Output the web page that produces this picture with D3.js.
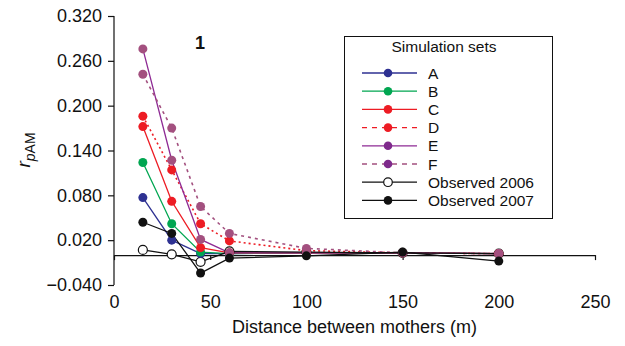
<!DOCTYPE html>
<html>
<head>
<meta charset="utf-8">
<script src="https://cdn.jsdelivr.net/npm/d3@7"></script>
<style>
  body { margin: 0; background: #fff; }
  svg { font-family: "Liberation Sans", Arial, sans-serif; }
</style>
</head>
<body>
<div id="vis"></div>
<script>
// data
const DISTANCES = [15, 30, 45, 60, 100, 150, 200];
const SET_A = [0.077, 0.020, 0.002, 0.002, 0.003, 0.003, 0.002];
const SET_B = [0.124, 0.042, 0.004, 0.002, 0.003, 0.003, 0.002];
const SET_C = [0.172, 0.072, 0.010, 0.003, 0.003, 0.003, 0.002];
const SET_D = [0.186, 0.114, 0.042, 0.019, 0.006, 0.003, 0.002];
const SET_E = [0.276, 0.127, 0.021, 0.003, 0.003, 0.003, 0.002];
const SET_F = [0.242, 0.170, 0.065, 0.029, 0.009, 0.003, 0.002];
const OBS_2006 = [0.007, 0.001, -0.009, 0.005, 0.004, 0.003, 0.002];
const OBS_2007 = [0.044, 0.029, -0.024, -0.004, -0.001, 0.004, -0.008];
const SERIES_NAMES = ["A", "B", "C", "D", "E", "F", "Observed 2006", "Observed 2007"];
const Y_TICKS = [-0.04, 0.02, 0.08, 0.14, 0.2, 0.26, 0.32];
const X_TICKS = [0, 50, 100, 150, 200, 250];

const FRAME_WIDTH = 625;
const FRAME_HEIGHT = 346;

const series = [
  {name: SERIES_NAMES[0], values: SET_A, line: "#2e3192", dot: "#2e3192", legDot: "#2e3192", dash: null, fill: true},
  {name: SERIES_NAMES[1], values: SET_B, line: "#00a651", dot: "#00a651", legDot: "#00a651", dash: null, fill: true},
  {name: SERIES_NAMES[2], values: SET_C, line: "#ed1c24", dot: "#ed1c24", legDot: "#ed1c24", dash: null, fill: true},
  {name: SERIES_NAMES[3], values: SET_D, line: "#ed1c24", dot: "#ed1c24", legDot: "#ed1c24", dash: "2,3", legDash: "5,5", fill: true},
  {name: SERIES_NAMES[4], values: SET_E, line: "#8e2a94", dot: "#a3507f", legDot: "#7f2a8c", dash: null, fill: true},
  {name: SERIES_NAMES[5], values: SET_F, line: "#a3507f", dot: "#a3507f", legDot: "#7f2a8c", dash: "3,4", legDash: "5,5", fill: true},
  {name: SERIES_NAMES[6], values: OBS_2006, line: "#111", dot: "#111", legDot: "#111", dash: null, fill: false},
  {name: SERIES_NAMES[7], values: OBS_2007, line: "#111", dot: "#111", legDot: "#111", dash: null, fill: true}
];

const svg = d3.select("#vis")
  .append("svg")
    .attr("width", FRAME_WIDTH)
    .attr("height", FRAME_HEIGHT);

const X_SCALE = d3.scaleLinear().domain([0, 250]).range([114, 595]);
const Y_SCALE = d3.scaleLinear().domain([-0.04, 0.32]).range([285, 16]);

// y axis
const yAxis = svg.append("g")
  .attr("transform", "translate(" + X_SCALE(0) + ",0)")
  .call(d3.axisLeft(Y_SCALE).tickValues(Y_TICKS).tickFormat(d3.format(".3f")).tickSizeOuter(0).tickSize(6).tickPadding(6));
yAxis.selectAll("text").attr("font-size", "18px").attr("fill", "#111");
yAxis.selectAll("line, path").attr("stroke", "#111").attr("stroke-width", 1.2);
yAxis.select(".domain").attr("d", "M0," + Y_SCALE(0.32) + "V" + Y_SCALE(-0.04));

// zero line with ticks
const zeroAxis = svg.append("g")
  .attr("transform", "translate(0," + Y_SCALE(0) + ")")
  .call(d3.axisBottom(X_SCALE).tickValues(X_TICKS).tickSize(5).tickSizeOuter(0).tickFormat(""));
zeroAxis.selectAll("line, path").attr("stroke", "#111").attr("stroke-width", 1.2);

// tick labels along the bottom
const xLabels = svg.append("g")
  .attr("transform", "translate(0," + Y_SCALE(-0.04) + ")")
  .call(d3.axisBottom(X_SCALE).tickValues(X_TICKS).tickSize(0).tickPadding(10));
xLabels.select(".domain").remove();
xLabels.selectAll("text").attr("font-size", "18px").attr("fill", "#111");

// axis titles
svg.append("text")
  .attr("x", (X_SCALE(0) + X_SCALE(250)) / 2)
  .attr("y", 333)
  .attr("text-anchor", "middle")
  .attr("font-size", "18px")
  .attr("fill", "#111")
  .text("Distance between mothers (m)");

const yTitle = svg.append("text")
  .attr("transform", "translate(30,150) rotate(-90)")
  .attr("text-anchor", "middle")
  .attr("font-size", "19px")
  .attr("fill", "#111");
yTitle.append("tspan").attr("font-style", "italic").text("r");
yTitle.append("tspan").attr("font-style", "italic").attr("font-size", "14px").attr("dy", 5).text("p");
yTitle.append("tspan").attr("font-size", "14px").text("AM");

// panel label
svg.append("text")
  .attr("x", 200)
  .attr("y", 49)
  .attr("text-anchor", "middle")
  .attr("font-size", "18px")
  .attr("font-weight", "bold")
  .attr("fill", "#111")
  .text("1");

// lines
const line = d3.line()
  .x((d, i) => X_SCALE(DISTANCES[i]))
  .y((d) => Y_SCALE(d));

series.forEach((s) => {
  svg.append("path")
    .datum(s.values)
    .attr("d", line)
    .attr("fill", "none")
    .attr("stroke", s.line)
    .attr("stroke-width", s.dash ? 1.6 : 1.3)
    .attr("stroke-dasharray", s.dash);
});

// points: 2006 first, then the simulations, 2007 on top
const drawOrder = [series[6]].concat(series.slice(0, 6), [series[7]]);
drawOrder.forEach((s) => {
  svg.selectAll(null)
    .data(s.values)
    .enter()
    .append("circle")
      .attr("cx", (d, i) => X_SCALE(DISTANCES[i]))
      .attr("cy", (d) => Y_SCALE(d))
      .attr("r", 4.5)
      .attr("fill", s.fill ? s.dot : "#fff")
      .attr("stroke", s.fill ? "none" : "#111")
      .attr("stroke-width", 1.2);
});

// legend
const legend = svg.append("g");
legend.append("rect")
  .attr("x", 344.5).attr("y", 36.5)
  .attr("width", 208).attr("height", 182)
  .attr("fill", "#fff").attr("stroke", "#111").attr("stroke-width", 1);
legend.append("text")
  .attr("x", 444).attr("y", 52)
  .attr("text-anchor", "middle")
  .attr("font-size", "15.5px")
  .attr("fill", "#111")
  .text("Simulation sets");

series.forEach((s, i) => {
  const y = 73 + i * 18.2;
  legend.append("line")
    .attr("x1", 362).attr("x2", 417)
    .attr("y1", y).attr("y2", y)
    .attr("stroke", s.line)
    .attr("stroke-width", 1.3)
    .attr("stroke-dasharray", s.legDash || null);
  legend.append("circle")
    .attr("cx", 388).attr("cy", y).attr("r", 4.3)
    .attr("fill", s.fill ? s.legDot : "#fff")
    .attr("stroke", s.fill ? "none" : "#111")
    .attr("stroke-width", 1.2);
  legend.append("text")
    .attr("x", 428).attr("y", y + 5.5)
    .attr("font-size", "15.5px")
    .attr("fill", "#111")
    .text(s.name);
});
</script>
</body>
</html>
